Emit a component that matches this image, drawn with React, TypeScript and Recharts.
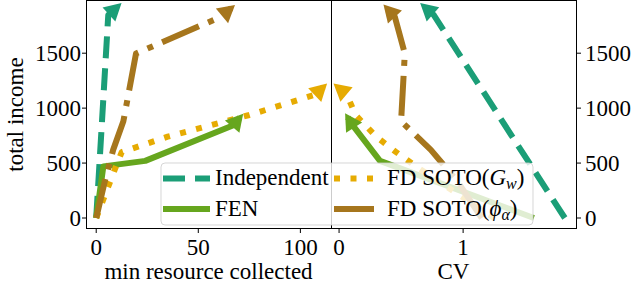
import { LineChart, Line, XAxis, YAxis, Label } from 'recharts'

const FONT = 'Liberation Serif'
const FS = 23

// tick labels
const incomeTicks = [0, 500, 1000, 1500]
const resourceTicks = [0, 50, 100]
const cvTicks = [0, 1]

// each sweep: total income, min resource collected, CV (same point order)
const indepIncome = [0, 900, 1847, 1926]
const indepResource = [0, 2.9, 5.9, 10.6]
const indepCV = [1.82, 1.305, 0.764, 0.684]

const fenIncome = [0, 470, 520, 845, 915]
const fenResource = [0, 3.5, 24, 67.2, 70.4]
const fenCV = [1.57, 0.45, 0.33, 0.109, 0.07]

const gwIncome = [0, 470, 600, 740, 935, 1122, 1194]
const gwResource = [0, 9.7, 12.5, 35, 74.5, 107.2, 111.3]
const gwCV = [1.25, 0.62, 0.46, 0.3, 0.135, 0.062, -0.014]

const phiIncome = [0, 340, 620, 880, 1497, 1830, 1910]
const phiResource = [0, 4.3, 8.3, 13.3, 19.5, 61, 66.1]
const phiCV = [1.15, 0.95, 0.74, 0.5, 0.53, 0.45, 0.385]

type Series = {
  key: string
  color: string
  dash?: string
  income: number[]
  resource: number[]
  cv: number[]
}

const series: Series[] = [
  { key: 'indep', color: '#1b9e77', dash: '22 10', income: indepIncome, resource: indepResource, cv: indepCV },
  { key: 'fen', color: '#66a61e', income: fenIncome, resource: fenResource, cv: fenCV },
  { key: 'gw', color: '#e6ab02', dash: '6 10.5', income: gwIncome, resource: gwResource, cv: gwCV },
  { key: 'phi', color: '#a6761d', dash: '40 10 6 10', income: phiIncome, resource: phiResource, cv: phiCV },
]

const toPoints = (xs: number[], ys: number[]) => xs.map((x, i) => ({ x, y: ys[i] }))

// triangle head on the last point, pointing along the last segment
function arrowHead(color: string) {
  return (props: any) => {
    const { cx, cy, index, points } = props
    const key = `arrow-${index}`
    if (!points || index === 0 || index !== points.length - 1) return <g key={key} />
    const prev = points[index - 1]
    const dx = cx - prev.x
    const dy = cy - prev.y
    const len = Math.hypot(dx, dy) || 1
    const ux = dx / len
    const uy = dy / len
    const tx = cx + ux * 5
    const ty = cy + uy * 5
    const bx = cx - ux * 12
    const by = cy - uy * 12
    const w = 9.5
    return (
      <path
        key={key}
        d={`M${tx},${ty}L${bx - uy * w},${by + ux * w}L${bx + uy * w},${by - ux * w}Z`}
        fill={color}
      />
    )
  }
}

const tickStyle = { fill: '#000', fontSize: FS, fontFamily: FONT }

const YTitle = (props: any) => {
  const vb = props.viewBox
  const cy = vb.y + vb.height / 2
  return (
    <text
      x={23}
      y={cy}
      transform={`rotate(-90 23 ${cy})`}
      textAnchor="middle"
      fill="#000"
      fontSize={FS}
      fontFamily={FONT}
    >
      total income
    </text>
  )
}

function Panel({ side }: { side: 'left' | 'right' }) {
  const isLeft = side === 'left'
  return (
    <LineChart width={isLeft ? 331 : 300} height={290} margin={{ top: 1, right: 0, bottom: 0, left: 0 }}>
      <XAxis
        type="number"
        dataKey="x"
        domain={isLeft ? [-5, 115] : [-0.065, 1.91]}
        ticks={isLeft ? resourceTicks : cvTicks}
        allowDataOverflow
        height={62}
        axisLine={false}
        tickLine={{ stroke: '#000' }}
        tickSize={5}
        tickMargin={6}
        tick={tickStyle}
      >
        <Label
          value={isLeft ? 'min resource collected' : 'CV'}
          position="insideBottom"
          offset={11}
          fill="#000"
          fontSize={FS}
          fontFamily={FONT}
        />
      </XAxis>
      <YAxis
        type="number"
        orientation={isLeft ? 'left' : 'right'}
        domain={[-91, 1975]}
        ticks={incomeTicks}
        allowDataOverflow
        width={isLeft ? 86 : 55}
        axisLine={false}
        tickLine={{ stroke: '#000' }}
        tickSize={isLeft ? 4 : 5}
        tickMargin={isLeft ? 1 : 4}
        tick={tickStyle}
      >
        {isLeft && <Label content={YTitle} />}
      </YAxis>
      {series.map((s) => (
        <Line
          key={s.key}
          data={toPoints(isLeft ? s.resource : s.cv, s.income)}
          dataKey="y"
          stroke={s.color}
          strokeWidth={6}
          strokeDasharray={s.dash}
          strokeLinejoin="round"
          dot={arrowHead(s.color)}
          activeDot={false}
          isAnimationActive={false}
        />
      ))}
    </LineChart>
  )
}

function LegendBox() {
  const rows = [185, 215.5]
  const swatchY = [178.5, 209]
  const cols = [
    { x1: 163, x2: 210, tx: 215 },
    { x1: 334, x2: 378, tx: 387 },
  ]
  const labels = [
    <>Independent</>,
    <>FEN</>,
    <>
      FD SOTO(<tspan fontStyle="italic">G</tspan>
      <tspan fontStyle="italic" fontSize={16} dy={4}>w</tspan>
      <tspan dy={-4}>)</tspan>
    </>,
    <>
      FD SOTO(<tspan fontStyle="italic">ϕ</tspan>
      <tspan fontStyle="italic" fontSize={16} dy={4}>α</tspan>
      <tspan dy={-4}>)</tspan>
    </>,
  ]
  return (
    <svg width={631} height={290} style={{ position: 'absolute', left: 0, top: 0, pointerEvents: 'none' }}>
      <rect x={161} y={163} width={372} height={62} rx={4} fill="#fff" fillOpacity={0.8} stroke="#ccc" strokeOpacity={0.8} />
      {series.map((s, i) => {
        const c = cols[Math.floor(i / 2)]
        const r = i % 2
        return (
          <g key={s.key}>
            <line x1={c.x1} x2={c.x2} y1={swatchY[r]} y2={swatchY[r]} stroke={s.color} strokeWidth={6} strokeDasharray={s.dash} />
            <text x={c.tx} y={rows[r]} fill="#000" fontSize={FS} fontFamily={FONT}>
              {labels[i]}
            </text>
          </g>
        )
      })}
    </svg>
  )
}

export default function App() {
  return (
    <div style={{ position: 'absolute', left: 0, top: 0, width: 631, height: 290, background: '#fff' }}>
      <div style={{ position: 'absolute', left: 0, top: 0 }}>
        <Panel side="left" />
      </div>
      <div style={{ position: 'absolute', left: 331, top: 0 }}>
        <Panel side="right" />
      </div>
      <div style={{ position: 'absolute', left: 86, top: 0, width: 246, height: 229, border: '1px solid #000', boxSizing: 'border-box' }} />
      <div style={{ position: 'absolute', left: 331, top: 0, width: 246, height: 229, border: '1px solid #000', boxSizing: 'border-box' }} />
      <LegendBox />
    </div>
  )
}
